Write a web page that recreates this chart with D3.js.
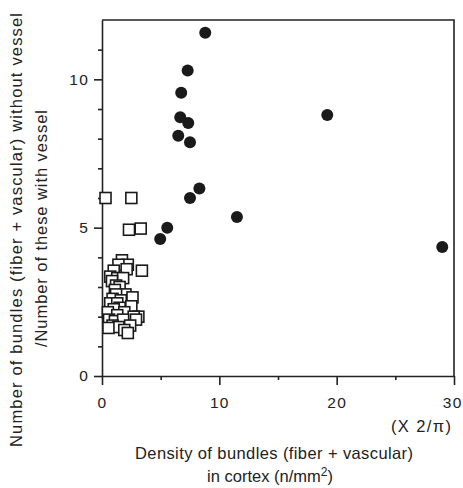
<!DOCTYPE html>
<html>
<head>
<meta charset="utf-8">
<script src="https://cdn.jsdelivr.net/npm/d3@7/dist/d3.min.js"></script>
<style>
  body { margin: 0; background: #fff; }
  svg text { font-family: "Liberation Sans", Arial, Helvetica, sans-serif; fill: #222; }
  .axis path, .axis line { stroke: #222; stroke-width: 1.6px; }
  .axis text { font-size: 15.5px; letter-spacing: 1.2px; }
  .title { font-size: 16.5px; }
</style>
</head>
<body>
<div id="vis"></div>
<script>
// Bundles with vessel-free ratio: filled circles (density, ratio)
var circleData = [
    [8.8, 11.57], [7.3, 10.3], [6.75, 9.55], [6.67, 8.72], [7.35, 8.53],
    [6.5, 8.1], [7.5, 7.88], [8.3, 6.32], [7.5, 6.0], [5.56, 5.0],
    [4.96, 4.62], [11.5, 5.36], [19.2, 8.8], [29.0, 4.35]
];

// Open squares (density, ratio)
var squareData = [
    [0.3, 6.0], [2.5, 6.0], [2.3, 4.93], [3.3, 4.97],
    [1.7, 3.9], [2.2, 3.75], [1.4, 3.75], [2.1, 3.6], [3.4, 3.55], [1.0, 3.55],
    [0.7, 3.35], [1.3, 3.3], [1.8, 3.3], [0.85, 3.2], [1.2, 3.05], [1.5, 3.0],
    [1.1, 2.9], [2.0, 2.75], [1.2, 2.75], [2.6, 2.65], [0.9, 2.6], [1.6, 2.55],
    [0.7, 2.45], [1.3, 2.45], [2.5, 2.35], [1.5, 2.3], [1.0, 2.25], [0.5, 2.15],
    [1.9, 2.15], [1.3, 2.05], [3.1, 2.0], [2.7, 2.0], [0.6, 1.9], [1.1, 1.85],
    [1.8, 1.9], [2.9, 1.9], [0.9, 1.7], [2.4, 1.7], [1.4, 1.65], [0.55, 1.62],
    [1.9, 1.55], [2.2, 1.45]
];

// Tick values
var xMajorTicks = [0, 10, 20, 30];
var xMinorTicks = [5, 15, 25];
var yMajorTicks = [0, 5, 10];
var yMinorTicks = [1, 2, 3, 4, 6, 7, 8, 9, 11];

var margin = { left: 102, top: 20, right: 9, bottom: 112 };
var width = 463;
var height = 488;
var drawWidth = width - margin.left - margin.right;
var drawHeight = height - margin.top - margin.bottom;

var svg = d3.select('#vis')
    .append('svg')
    .attr('width', width)
    .attr('height', height);

var g = svg.append('g')
    .attr('transform', 'translate(' + margin.left + ',' + margin.top + ')');

var xScale = d3.scaleLinear().domain([0, 30]).range([0, drawWidth]);
var yScale = d3.scaleLinear().domain([0, 12]).range([drawHeight, 0]);

// frame (top and right)
g.append('path')
    .attr('d', 'M0,0H' + xScale(30) + 'V' + yScale(0))
    .attr('fill', 'none')
    .attr('stroke', '#222')
    .attr('stroke-width', 1.6);

// minor ticks
g.append('g').attr('class', 'axis')
    .attr('transform', 'translate(0,' + drawHeight + ')')
    .call(d3.axisBottom(xScale).tickValues(xMinorTicks).tickSize(4).tickSizeOuter(0).tickFormat(''))
    .select('.domain').remove();
g.append('g').attr('class', 'axis')
    .call(d3.axisLeft(yScale).tickValues(yMinorTicks).tickSize(4).tickSizeOuter(0).tickFormat(''))
    .select('.domain').remove();

// major axes
var xAxisG = g.append('g').attr('class', 'axis')
    .attr('transform', 'translate(0,' + drawHeight + ')')
    .call(d3.axisBottom(xScale).tickValues(xMajorTicks).tickSize(9).tickPadding(12).tickSizeOuter(0));
// last label sits against the right edge
xAxisG.selectAll('.tick text')
    .filter(function(d) { return d == 30; })
    .attr('text-anchor', 'end')
    .attr('dx', 8);

g.append('g').attr('class', 'axis')
    .call(d3.axisLeft(yScale).tickValues(yMajorTicks).tickSize(8).tickPadding(5).tickSizeOuter(0));

// squares
var side = 11;
g.selectAll('rect.sq').data(squareData).enter().append('rect')
    .attr('class', 'sq')
    .attr('x', function(d) { return xScale(d[0]) - side / 2; })
    .attr('y', function(d) { return yScale(d[1]) - side / 2; })
    .attr('width', side)
    .attr('height', side)
    .attr('fill', '#fff')
    .attr('stroke', '#1a1a1a')
    .attr('stroke-width', 1.6);

// circles
g.selectAll('circle').data(circleData).enter().append('circle')
    .attr('cx', function(d) { return xScale(d[0]); })
    .attr('cy', function(d) { return yScale(d[1]); })
    .attr('r', 6)
    .attr('fill', '#1a1a1a');

// x titles
svg.append('text').attr('class', 'title')
    .attr('x', 391).attr('y', 432)
    .attr('textLength', 60).attr('lengthAdjust', 'spacing')
    .text('(X 2/\u03c0)');
svg.append('text').attr('class', 'title')
    .attr('x', 135).attr('y', 459)
    .attr('textLength', 278).attr('lengthAdjust', 'spacing')
    .text('Density of bundles (fiber + vascular)');
var t2 = svg.append('text').attr('class', 'title')
    .attr('x', 270).attr('y', 482)
    .attr('text-anchor', 'middle');
t2.append('tspan').text('in cortex (n/mm');
t2.append('tspan').attr('dy', -6).attr('font-size', '12px').text('2');
t2.append('tspan').attr('dy', 6).text(')');

// y titles
svg.append('text').attr('class', 'title')
    .attr('transform', 'translate(22,447) rotate(-90)')
    .attr('textLength', 434).attr('lengthAdjust', 'spacing')
    .text('Number of bundles (fiber + vascular) without vessel');
svg.append('text').attr('class', 'title')
    .attr('transform', 'translate(47,347) rotate(-90)')
    .attr('textLength', 237).attr('lengthAdjust', 'spacing')
    .text('/Number of these with vessel');
</script>
</body>
</html>
